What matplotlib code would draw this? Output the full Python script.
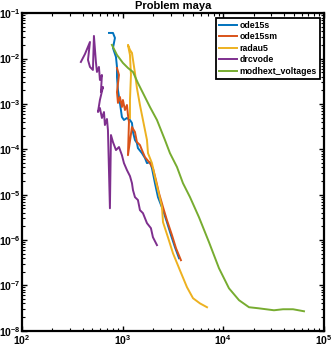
import matplotlib
matplotlib.use('Agg')
import matplotlib.pyplot as plt
from matplotlib.ticker import LogLocator

plt.rcParams['font.family'] = ['Liberation Sans', 'DejaVu Sans']
plt.rcParams['font.weight'] = 'bold'
plt.rcParams['mathtext.default'] = 'bf'
plt.rcParams['mathtext.fontset'] = 'custom'
plt.rcParams['mathtext.bf'] = 'Liberation Sans:bold'
plt.rcParams['mathtext.rm'] = 'Liberation Sans:bold'

# ---------------- datos ----------------
ode15s_x = [732, 802, 839, 802, 859, 879, 879, 899, 940, 984, 1031, 1104, 1183, 1238,
            1267, 1326, 1387, 1419, 1556, 1667, 1745, 1868, 1955, 2094, 2244, 2518,
            2754, 3020, 3311, 3631]
ode15s_y = [3.67e-2, 3.67e-2, 2.85e-2, 1.71e-2, 1.08e-2, 6.53e-3, 3.93e-3, 2.03e-3,
            1.05e-3, 5.14e-4, 4.42e-4, 4.89e-4, 4.42e-4, 3.79e-4, 2.40e-4, 1.60e-4,
            1.37e-4, 1.06e-4, 8.2e-5, 6.4e-5, 4.95e-5, 5.2e-5, 3.85e-5, 1.79e-5,
            8.8e-6, 4.55e-6, 2.47e-6, 1.28e-6, 6.9e-7, 3.96e-7]

ode15sm_x = [879, 920, 879, 899, 940, 984, 1007, 1055, 1104, 1130, 1156, 1130, 1238,
             1326, 1387, 1486, 1556, 1667, 1868, 2000, 2143, 2296, 2518, 2754, 3090,
             3388, 3793]
ode15sm_y = [6.20e-3, 4.35e-3, 1.83e-3, 1.05e-3, 1.42e-3, 8.55e-4, 1.22e-3, 7.33e-4,
             9.46e-4, 5.69e-4, 3.98e-4, 7.4e-5, 3.09e-4, 2.40e-4, 1.44e-4, 1.24e-4,
             9.6e-5, 6.7e-5, 4.95e-5, 3.85e-5, 2.09e-5, 1.08e-5, 5.3e-6, 2.74e-6,
             1.28e-6, 6.6e-7, 3.58e-7]

radau5_x = [1183, 1183, 1210, 1183, 1130, 1183, 1238, 1326, 1387, 1486, 1592, 1745,
            1786, 1955, 2094, 2244, 2460, 2518, 2818, 3162, 3707, 4355, 5000, 5861, 6887]
radau5_y = [4.89e-4, 1.22e-3, 4.35e-3, 1.20e-2, 2.00e-2, 1.55e-2, 1.33e-2, 4.81e-3,
            2.24e-3, 9.46e-4, 4.42e-4, 1.60e-4, 8.2e-5, 4.95e-5, 2.43e-5, 1.26e-5,
            5.3e-6, 2.47e-6, 1.15e-6, 5.1e-7, 2.15e-7, 9.1e-8, 5.2e-8, 4.0e-8, 3.29e-8]

drcvode_x = [385, 423, 474, 453, 474, 507, 519, 543, 556, 582, 595, 623, 609, 638, 595,
             569, 595, 623, 653, 667, 699, 715, 748, 766, 802, 859, 920, 984, 1031,
             1104, 1183, 1238, 1267, 1326, 1419, 1486, 1592, 1745, 1910, 2000, 2193]
drcvode_y = [8.41e-3, 1.26e-2, 2.32e-2, 9.31e-3, 6.53e-3, 5.60e-3, 3.15e-2, 8.41e-3,
             5.06e-3, 6.53e-3, 3.37e-3, 4.35e-3, 1.83e-3, 2.36e-3, 1.22e-3, 6.62e-4,
             8.11e-4, 4.89e-4, 6.62e-4, 3.42e-4, 4.65e-4, 2.65e-4, 5.0e-6, 2.06e-4,
             1.44e-4, 9.6e-5, 1.12e-4, 7.4e-5, 4.95e-5, 3.47e-5, 2.56e-5, 1.79e-5,
             1.26e-5, 8.8e-6, 7.6e-6, 4.55e-6, 3.9e-6, 2.35e-6, 1.82e-6, 1.15e-6, 7.7e-7]

modhext_x = [783, 879, 1007, 1130, 1267, 1419, 1592, 1868, 2193, 2632, 2951, 3467,
             3972, 4667, 5728, 7211, 9057, 11380, 14320, 17990, 22080, 26550, 31840,
             39170, 49200, 63240]
modhext_y = [2.00e-2, 1.20e-2, 8.00e-3, 6.20e-3, 5.06e-3, 2.89e-3, 1.74e-3, 8.55e-4,
             4.42e-4, 1.60e-4, 8.2e-5, 4.05e-5, 1.79e-5, 8.8e-6, 3.18e-6, 8.9e-7,
             2.38e-7, 8.6e-8, 4.7e-8, 3.29e-8, 3.13e-8, 2.97e-8, 2.82e-8, 2.97e-8,
             2.97e-8, 2.68e-8]

series = [
    ('ode15s', ode15s_x, ode15s_y, '#0072BD'),
    ('ode15sm', ode15sm_x, ode15sm_y, '#D95319'),
    ('radau5', radau5_x, radau5_y, '#EDB120'),
    ('drcvode', drcvode_x, drcvode_y, '#7E2F8E'),
    ('modhext_voltages', modhext_x, modhext_y, '#77AC30'),
]

# ---------------- grafica ----------------
fig = plt.figure(figsize=(3.32, 3.47), dpi=100)
ax = fig.add_axes([0.066, 0.047, 0.91, 0.915])

for nombre, xs, ys, col in series:
    ax.plot(xs, ys, color=col, linewidth=1.4, label=nombre)

ax.set_xscale('log')
ax.set_yscale('log')
ax.set_xlim(1e2, 1e5)
ax.set_ylim(1e-8, 1e-1)
ax.xaxis.set_major_locator(LogLocator(base=10, numticks=10))
ax.yaxis.set_major_locator(LogLocator(base=10, numticks=10))
ax.xaxis.set_minor_locator(LogLocator(base=10, subs=range(2, 10), numticks=20))
ax.yaxis.set_minor_locator(LogLocator(base=10, subs=range(2, 10), numticks=20))

ax.tick_params(which='both', direction='in', top=True, right=True, labelsize=7.5)
ax.tick_params(which='major', length=3.5, width=1.0)
ax.tick_params(which='minor', length=2, width=0.8)
ax.tick_params(axis='x', pad=1.5)
ax.tick_params(axis='y', pad=1)
for s in ax.spines.values():
    s.set_linewidth(1.6)

ax.set_title('Problem maya', fontsize=8, fontweight='bold', pad=3)

leg = ax.legend(loc='upper right', fontsize=6.3, frameon=True, fancybox=False,
                edgecolor='black', framealpha=1, labelspacing=0.3,
                handlelength=2.0, handletextpad=0.3, borderpad=0.35,
                borderaxespad=0.5)
leg.get_frame().set_linewidth(1.3)

fig.savefig('out.png', dpi=100)
